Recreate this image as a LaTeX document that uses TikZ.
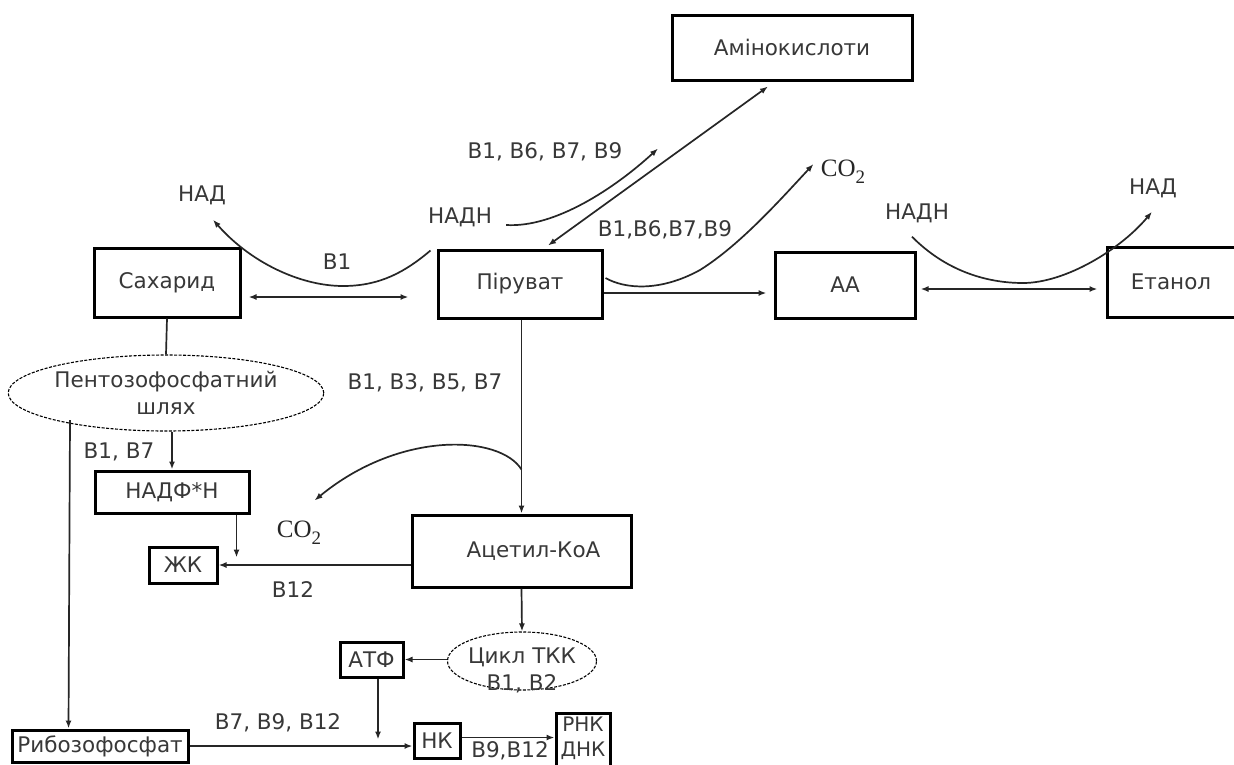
\documentclass[tikz,border=0pt]{standalone}
\usepackage{fontspec}
\setmainfont{DejaVu Sans}
\newfontfamily\cofont{Liberation Serif}
\usetikzlibrary{arrows.meta,calc,shapes.geometric}
\definecolor{txt}{HTML}{383838}
\newcommand{\cotwo}{CO\raisebox{-7pt}{\fontsize{19}{19}\selectfont 2}}
\begin{document}
\begin{tikzpicture}[x=1pt,y=-1pt,
  every node/.style={font=\fontsize{21.5}{27}\selectfont, text=txt},
  box/.style={draw=black, line width=3pt, inner sep=0pt, fill=white},
  oval/.style={ellipse, draw=black, dash pattern=on 3pt off 1.5pt, line width=1.1pt, inner sep=0pt},
  conn/.style={line width=1.7pt, draw=black!85},
  arr/.style={conn, -{Latex[length=8pt,width=6pt]}},
  darr/.style={conn, {Latex[length=8pt,width=6pt]}-{Latex[length=8pt,width=6pt]}},
  lbl/.style={inner sep=0pt},
  co/.style={inner sep=0pt, font=\cofont\fontsize{25}{27}\selectfont, text=black!85}
]
\useasboundingbox (0,0) rectangle (1234,764);
\fill[white] (0,0) rectangle (1234,764);

% boxes
\node[box, minimum width=240pt, minimum height=65pt] (amino) at (792,47.5) {Амінокислоти};
\node[box, minimum width=146pt, minimum height=69pt] (sakh) at (167,282.5) {Сахарид};
\node[box, minimum width=164pt, minimum height=68pt] (pyr) at (520,284) {Піруват};
\node[box, minimum width=140pt, minimum height=66pt] (aa) at (845,285) {АА};
\node[box, minimum width=128pt, minimum height=70pt] (etan) at (1171,282) {Етанол};
\node[oval, minimum width=268pt, minimum height=76pt, align=center] (ppp) at (166,393) {Пентозофосфатний\\шлях};
\node[box, minimum width=154pt, minimum height=42pt] (nadfh) at (172,492) {НАДФ*Н};
\node[box, minimum width=68pt, minimum height=36pt] (zhk) at (183,565) {ЖК};
\node[box, minimum width=219pt, minimum height=72pt] (acetyl) at (521.5,551) {\hspace*{24pt}Ацетил-КоА};
\node[oval, minimum width=149pt, minimum height=58pt] (tca) at (522,661) {};
\node[lbl, align=center] (tcat) at (522,670) {Цикл ТКК\\B1, B2};
\node[box, minimum width=63pt, minimum height=35pt] (atf) at (371.5,659.5) {АТФ};
\node[box, minimum width=176pt, minimum height=32pt] (ribo) at (100,746) {Рибозофосфат};
\node[box, minimum width=46pt, minimum height=35pt] (nk) at (437,740.5) {НК};
\node[box, minimum width=54pt, minimum height=62pt] (rna) at (583,744) {};
\node[lbl, align=center, font=\fontsize{20}{25}\selectfont] (rnat) at (583,738) {РНК\\ДНК};

% labels
\node[lbl] (nadL) at (202,195) {НАД};
\node[lbl] (nadhL) at (460,217) {НАДН};
\node[lbl] (v1) at (545,152) {B1, B6, B7, B9};
\node[lbl] (v2) at (665,230) {B1,B6,B7,B9};
\node[lbl] (vb1) at (337,262) {B1};
\node[lbl] (nadhR) at (917,213) {НАДН};
\node[lbl] (nadR) at (1153,188) {НАД};
\node[co] (co2a) at (843,172) {\cotwo};
\node[lbl] (v3) at (425,383) {B1, B3, B5, B7};
\node[lbl] (v4) at (119,452) {B1, B7};
\node[co] (co2b) at (299,533) {\cotwo};
\node[lbl] (v5) at (293,590) {B12};
\node[lbl] (v6) at (278,723) {B7, B9, B12};
\node[lbl] (v7) at (510,751) {B9,B12};

% coordinates
\coordinate (sp1) at ($(sakh.east)+(7,14.5)$);
\coordinate (sp2) at ($(pyr.west)+(-28,13)$);
\coordinate (nadLs) at ($(pyr.north west)+(-6,2)$);
\coordinate (nadLt) at ($(nadL.south)+(11,15)$);
\coordinate (pa1) at ($(pyr.north)+(28,-3)$);
\coordinate (pa2) at ($(amino.south)+(-24,5)$);
\coordinate (nh1) at ($(nadhL.east)+(14,8)$);
\coordinate (nh2) at ($(pyr.north)+(138,-100)$);
\coordinate (co2as) at ($(pyr.east)+(2,-6)$);
\coordinate (co2at) at ($(pyr.east)+(210,-120)$);
\coordinate (nhRs) at ($(nadhR.south)+(-5,14)$);
\coordinate (nadRt) at ($(nadR.south)+(-1,14)$);
\coordinate (co2bs) at ($(acetyl.north)+(0,-44)$);
\coordinate (co2bt) at ($(acetyl.north)+(-207,-13)$);
\coordinate (nf1) at ($(nadfh.south east)+(-14,0)$);
\coordinate (nf2) at ($(nadfh.south east)+(-14,43)$);
\coordinate (pr1) at ($(ppp.center)+(-96,27)$);
\coordinate (pr2) at ($(ribo.north west)+(58,0)$);
\coordinate (at1) at ($(atf.south)+(6.5,0)$);
\coordinate (at2) at ($(atf.south)+(6.5,61)$);

% connectors
\draw[darr] (sp1) -- (sp2);
\draw[arr] (nadLs) .. controls (405,272) and (380,286) .. (343,286) .. controls (300,286) and (250,262) .. (nadLt);
\draw[darr] (pa1) -- (pa2);
\draw[arr] (nh1) .. controls (555,228) and (615,188) .. (nh2);
\draw[arr] (co2as) .. controls (625,289) and (660,292) .. (700,270) .. controls (740,245) and (780,200) .. (co2at);
\draw[arr] ($(pyr.east)+(0,9)$) -- ($(aa.west)+(-7,8)$);
\draw[darr] ($(aa.east)+(4,4)$) -- ($(etan.west)+(-8,7)$);
\draw[arr] (nhRs) .. controls (945,270) and (985,283) .. (1023,283) .. controls (1065,283) and (1120,250) .. (nadRt);
\draw[arr] (pyr.south -| acetyl.north) -- (acetyl.north);
\draw[arr] (co2bs) .. controls (500,435) and (400,430) .. (co2bt);
\draw[arr] (zhk.east -| acetyl.west) -- (zhk.east);
\draw[arr] (nf1) -- (nf2);
\draw[conn] (sakh.south) -- (ppp.north);
\draw[arr] (ppp.south -| nadfh.north) -- (nadfh.north);
\draw[arr] (pr1) -- (pr2);
\draw[arr] (ribo.east) -- (ribo.east -| nk.west);
\draw[arr] (at1) -- (at2);
\draw[arr] (acetyl.south) -- (tca.north);
\draw[arr] (atf.east -| tca.west) -- (atf.east);
\draw[arr] ($(nk.east)+(0,-3)$) -- ($(nk.east -| rna.west)+(0,-3)$);
\end{tikzpicture}
\end{document}
